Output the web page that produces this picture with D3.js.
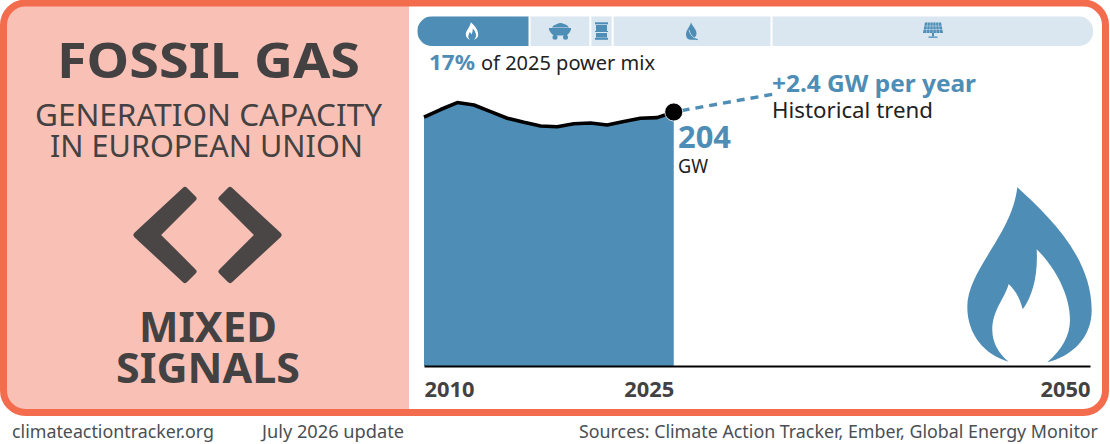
<!DOCTYPE html>
<html>
<head>
<meta charset="utf-8">
<script src="https://cdn.jsdelivr.net/npm/d3@7"></script>
<style>
	html, body { margin: 0; padding: 0; background: #fff; }
	svg { display: block; }
	text { font-family: 'Noto Sans', sans-serif; }
</style>
</head>
<body>
<div id="graph"></div>
<script>
// capacity in GW
const years = [2010, 2011, 2012, 2013, 2014, 2015, 2016, 2017, 2018, 2019, 2020, 2021, 2022, 2023, 2024, 2025]
const capacity = [199.8, 206, 211.6, 209.6, 204.3, 199, 195.7, 192.8, 192.2, 194.6, 195.2, 193.6, 196.3, 199, 199.5, 204]
const trendYears = [2025, 2031]
const trendValues = [204, 218.4]
const tickYears = [2010, 2025, 2050]

// power mix bar on top
const mixNames = ['gas', 'coal', 'oil', 'bio', 'solar']
const mixShares = [16.6, 9, 3.3, 23.5, 47.6]

const BLUE = '#4e8db5', PALE = '#dbe7f0', PINK = '#f9c1b6', ORANGE = '#f46c4e', DARK = '#444142'

const svg = d3.select('#graph').append('svg').attr('width', 1110).attr('height', 444)

// left panel + frame
const defs = svg.append('defs')
defs.append('clipPath').attr('id', 'frameClip').append('rect')
	.attr('x', 3).attr('y', 3).attr('width', 1102).attr('height', 410).attr('rx', 22)
defs.append('clipPath').attr('id', 'mixClip').append('rect')
	.attr('x', 417.3).attr('y', 16.3).attr('width', 676).attr('height', 29.7).attr('rx', 14.8)

svg.append('rect').attr('x', 0).attr('y', 0).attr('width', 409).attr('height', 444)
	.attr('fill', PINK).attr('clip-path', 'url(#frameClip)')
svg.append('rect').attr('x', 3.5).attr('y', 3).attr('width', 1102).attr('height', 409.5).attr('rx', 22)
	.attr('fill', 'none').attr('stroke', ORANGE).attr('stroke-width', 7)

// scales
const x = d3.scaleLinear().domain([2010, 2050]).range([424, 1090])
const y = d3.scaleLinear().domain([0, 204]).range([366, 112])
const xMix = d3.scaleLinear().domain([0, 100]).range([417.3, 1093.3])

// mix bar
const mixStart = d3.cumsum(mixShares)
const mixBar = svg.append('g').attr('clip-path', 'url(#mixClip)')
mixBar.selectAll('rect').data(mixNames).enter().append('rect')
	.attr('x', (d, i) => xMix(i ? mixStart[i - 1] : 0) + (i ? 1 : 0))
	.attr('width', (d, i) => xMix(mixShares[i]) - xMix(0) - (i && i < 4 ? 2 : 1))
	.attr('y', 16.3).attr('height', 29.7)
	.attr('fill', d => d === 'gas' ? BLUE : PALE)

// flame is drawn in page pixels at its big size, small one reuses it
const flame = 'M1017.3 187.3C1045 213 1091.7 255 1091.7 310C1091.7 338 1072 356 1047.3 362.3C1062 350 1070 335 1070 320C1070 292 1052 264 1036.7 249.3C1038 275 1033 295 1022.7 309.3C1020 298 1015 290 1008.7 284C1004 300 992.3 310 992.3 330C992.3 343 999 354 1008.7 361.7C985 355 967.3 335 967.3 306.7C967.3 270 1012 235 1017.3 187.3Z'
svg.append('path').attr('d', flame).attr('fill', BLUE)
svg.append('path').attr('d', flame).attr('fill', '#fff')
	.attr('transform', 'translate(472 31) scale(0.1) translate(-1029.5 -275)')

// coal cart
const cart = svg.append('g').attr('fill', BLUE)
cart.append('path').attr('d', 'M552 27.5C553 25 556 24.5 557 24C559 22.6 562 22.6 564 24C566 24.5 568 25.5 569 27.5Z')
cart.append('path').attr('d', 'M549 28H571L571 29.5C570 32 568 35 566 35.5H554.5C552 35 550 32 549 29.5Z')
cart.append('circle').attr('cx', 555).attr('cy', 37.3).attr('r', 2.5)
cart.append('circle').attr('cx', 565.5).attr('cy', 37.3).attr('r', 2.5)

// oil barrel
const barrel = svg.append('g').attr('fill', BLUE)
barrel.append('rect').attr('x', 595).attr('y', 22.3).attr('width', 13).attr('height', 2)
barrel.append('rect').attr('x', 596).attr('y', 25).attr('width', 11).attr('height', 6)
barrel.append('rect').attr('x', 595).attr('y', 31).attr('width', 13).attr('height', 1)
barrel.append('rect').attr('x', 596).attr('y', 33).attr('width', 11).attr('height', 4.5)
barrel.append('rect').attr('x', 595).attr('y', 37.8).attr('width', 13).attr('height', 2)

// leaf
svg.append('path').attr('fill', BLUE)
	.attr('d', 'M691 22.3C692 26 696.5 29 696.5 33.5C696.5 35.5 695.5 37 694 37.8L698 39.3L697.5 40.3C695 39.2 693 40 690.5 39.8C687.5 39.6 686 37.5 686 34.5C686 30 690 27 691 22.3Z')
svg.append('path').attr('fill', 'none').attr('stroke', PALE).attr('stroke-width', 0.8)
	.attr('d', 'M689 30C690 33.5 691.5 36 694 37.8')

// solar panel
const solar = svg.append('g').attr('fill', BLUE)
solar.append('path').attr('d', 'M925 22.5H941L943 33H923Z')
solar.append('rect').attr('x', 932).attr('y', 33).attr('width', 2).attr('height', 3.5)
solar.append('rect').attr('x', 928.5).attr('y', 36.5).attr('width', 9).attr('height', 1.3)
solar.selectAll('.v').data(d3.range(1, 6)).enter().append('line')
	.attr('x1', d => 925 + d * 16 / 6).attr('x2', d => 923 + d * 20 / 6)
	.attr('y1', 22.5).attr('y2', 33).attr('stroke', PALE).attr('stroke-width', 0.5)
solar.selectAll('.h').data([26, 29.5]).enter().append('line')
	.attr('x1', 923).attr('x2', 943).attr('y1', d => d).attr('y2', d => d)
	.attr('stroke', PALE).attr('stroke-width', 0.5)

// area + line
const rows = years.map((yr, i) => ({yr, v: capacity[i]}))
const area = d3.area().x(d => x(d.yr)).y0(y(0)).y1(d => y(d.v))
const line = d3.line().x(d => x(d.yr)).y(d => y(d.v))
svg.append('path').datum(rows).attr('d', area).attr('fill', BLUE)
svg.append('path').datum(rows).attr('d', line).attr('fill', 'none').attr('stroke', '#000')
	.attr('stroke-width', 3.6).attr('stroke-linejoin', 'round')

// historical trend
svg.append('path').datum(trendYears.map((yr, i) => ({yr, v: trendValues[i]})))
	.attr('d', d3.line().x(d => x(d.yr)).y(d => y(d.v)))
	.attr('fill', 'none').attr('stroke', BLUE).attr('stroke-width', 3.4)
	.attr('stroke-dasharray', '8 6').attr('stroke-dashoffset', 6)
svg.append('circle').attr('cx', x(2025)).attr('cy', y(204)).attr('r', 9)
	.attr('fill', '#000').attr('stroke', '#fff').attr('stroke-width', 0.8)

// x axis
const axis = svg.append('g').attr('transform', `translate(0,${y(0)})`)
	.call(d3.axisBottom(x).tickValues(tickYears).tickFormat(d3.format('d')).tickSize(0).tickPadding(16))
axis.select('.domain').attr('stroke', '#000').attr('stroke-width', 2)
axis.selectAll('text')
	.attr('fill', DARK).attr('font-size', 21).attr('font-weight', 700)
	.attr('font-family', "'Noto Sans', sans-serif")
	.attr('text-anchor', d => d === 2010 ? 'start' : 'end')
	.attr('textLength', 50).attr('lengthAdjust', 'spacingAndGlyphs')

// chevrons
const chevronLeft = [[136.5, 235], [185, 190], [193.5, 198.5], [157, 235], [193.5, 271.5], [185, 280]]
const chevron = d3.line()
svg.append('path').attr('d', chevron(chevronLeft) + 'Z')
	.attr('fill', '#4b4646').attr('stroke', '#4b4646').attr('stroke-width', 6).attr('stroke-linejoin', 'round')
svg.append('path').attr('d', chevron(chevronLeft.map(p => [415 - p[0], p[1]])) + 'Z')
	.attr('fill', '#4b4646').attr('stroke', '#4b4646').attr('stroke-width', 6).attr('stroke-linejoin', 'round')

// text, x0/x1 are the measured left and right edges in the picture
const labels = [
	{t: 'FOSSIL GAS', x0: 57, x1: 360, y: 78, s: 48, w: 700, c: DARK},
	{t: 'GENERATION CAPACITY', x0: 35, x1: 382, y: 126, s: 31, w: 400, c: DARK},
	{t: 'IN EUROPEAN UNION', x0: 50, x1: 363, y: 157, s: 31, w: 400, c: DARK},
	{t: 'MIXED', x0: 139, x1: 277, y: 342, s: 42, w: 700, c: DARK},
	{t: 'SIGNALS', x0: 116, x1: 300, y: 383, s: 42, w: 700, c: DARK},
	{t: '17%', x0: 429, x1: 475, y: 70, s: 21, w: 700, c: BLUE},
	{t: 'of 2025 power mix', x0: 481, x1: 655, y: 70, s: 20, w: 400, c: '#222'},
	{t: '+2.4 GW per year', x0: 772, x1: 976, y: 92, s: 23, w: 700, c: BLUE},
	{t: 'Historical trend', x0: 772, x1: 933, y: 118, s: 22, w: 400, c: '#222'},
	{t: '204', x0: 678, x1: 731, y: 148, s: 31, w: 700, c: BLUE},
	{t: 'GW', x0: 678, x1: 708, y: 173, s: 20, w: 400, c: '#222'},
	{t: 'climateactiontracker.org', x0: 12, x1: 214, y: 438, s: 18, w: 400, c: '#4a4f54'},
	{t: 'July 2026 update', x0: 262, x1: 404, y: 438, s: 18, w: 400, c: '#4a4f54'},
	{t: 'Sources: Climate Action Tracker, Ember, Global Energy Monitor', x0: 579, x1: 1098, y: 438, s: 18, w: 400, c: '#4a4f54'}
]
svg.selectAll('.label').data(labels).enter().append('text')
	.attr('class', 'label')
	.attr('x', d => d.x0).attr('y', d => d.y)
	.attr('textLength', d => d.x1 - d.x0).attr('lengthAdjust', 'spacingAndGlyphs')
	.attr('font-size', d => d.s).attr('font-weight', d => d.w).attr('fill', d => d.c)
	.text(d => d.t)
</script>
</body>
</html>
